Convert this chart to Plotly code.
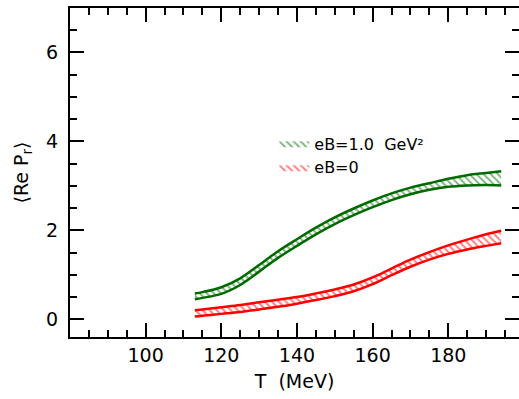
import plotly.graph_objects as go

T = [113, 115, 120, 125, 130, 135, 140, 145, 150, 155, 160, 165, 170, 175, 180, 185, 190, 194]
green_upper = [0.58, 0.61, 0.72, 0.92, 1.22, 1.53, 1.80, 2.06, 2.29, 2.49, 2.67, 2.83, 2.96, 3.06, 3.16, 3.24, 3.29, 3.33]
green_lower = [0.45, 0.48, 0.57, 0.77, 1.07, 1.38, 1.65, 1.91, 2.14, 2.34, 2.52, 2.68, 2.81, 2.91, 2.98, 3.01, 3.02, 3.01]
red_upper = [0.20, 0.22, 0.27, 0.32, 0.38, 0.44, 0.50, 0.58, 0.67, 0.78, 0.94, 1.14, 1.34, 1.51, 1.66, 1.79, 1.91, 1.99]
red_lower = [0.06, 0.08, 0.12, 0.16, 0.22, 0.28, 0.35, 0.43, 0.52, 0.63, 0.79, 0.99, 1.18, 1.34, 1.47, 1.57, 1.65, 1.71]

series_names = ["eB=1.0  GeV²", "eB=0"]
x_ticks = [100, 120, 140, 160, 180]
y_ticks = [0, 2, 4, 6]

GREEN = "#006a00"
RED = "#ff0000"
FONT = "DejaVu Sans"

fig = go.Figure()


def band(lower, upper, color, name):
    edge = dict(color=color, width=2.5, shape="spline", smoothing=1.0)
    fig.add_trace(go.Scatter(x=T, y=lower, mode="lines", line=edge, showlegend=False, hoverinfo="skip"))
    fig.add_trace(go.Scatter(x=T, y=upper, mode="lines", line=dict(color=color, width=0, shape="spline", smoothing=1.0),
                             fill="tonexty", fillcolor="rgba(255,255,255,0)",
                             fillpattern=dict(shape="\\", fgcolor=color, bgcolor="white", size=5, solidity=0.4),
                             name=name))
    fig.add_trace(go.Scatter(x=T, y=upper, mode="lines", line=edge, showlegend=False, hoverinfo="skip"))


band(green_lower, green_upper, GREEN, series_names[0])
band(red_lower, red_upper, RED, series_names[1])

# invisible trace to activate mirrored axes for top/right ticks
fig.add_trace(go.Scatter(x=[None], y=[None], xaxis="x2", yaxis="y2", showlegend=False))

axis_common = dict(ticks="inside", tickwidth=2, tickcolor="black", showgrid=False, zeroline=False)
minor_x = dict(tickmode="linear", tick0=0, dtick=5, ticklen=7, tickwidth=2, tickcolor="black", ticks="inside")
minor_y = dict(tickmode="linear", tick0=0, dtick=0.5, ticklen=7, tickwidth=2, tickcolor="black", ticks="inside")

fig.update_layout(
    width=519, height=399,
    margin=dict(l=70, r=0, t=8, b=62),
    plot_bgcolor="white", paper_bgcolor="white",
    font=dict(family=FONT, size=19, color="black"),
    xaxis=dict(range=[80, 198.7], tickmode="array", tickvals=x_ticks, ticklen=14,
               showline=True, linewidth=2, linecolor="black", minor=minor_x,
               title=dict(text="T  (MeV)", font=dict(size=19), standoff=10),
               tickfont=dict(size=19), **axis_common),
    yaxis=dict(range=[-0.4, 7.0], tickmode="array", tickvals=y_ticks, ticklen=14,
               showline=True, linewidth=2, linecolor="black", ticklabelstandoff=6, minor=minor_y,
               title=dict(text="⟨Re P<sub>r</sub>⟩", font=dict(size=19), standoff=12),
               tickfont=dict(size=19), **axis_common),
    xaxis2=dict(range=[80, 198.7], overlaying="x", side="top", tickmode="array", tickvals=x_ticks, ticklen=14,
                showticklabels=False, showline=True, linewidth=2, linecolor="black", minor=minor_x,
                **axis_common),
    yaxis2=dict(range=[-0.4, 7.0], overlaying="y", side="right", tickmode="array", tickvals=y_ticks, ticklen=14,
                showticklabels=False, showline=False, minor=minor_y,
                **axis_common),
    legend=dict(x=0.455, y=0.64, xanchor="left", yanchor="top", bgcolor="rgba(0,0,0,0)",
                font=dict(size=16), traceorder="normal", tracegroupgap=0),
    showlegend=True,
)

fig.write_html("out.html")
